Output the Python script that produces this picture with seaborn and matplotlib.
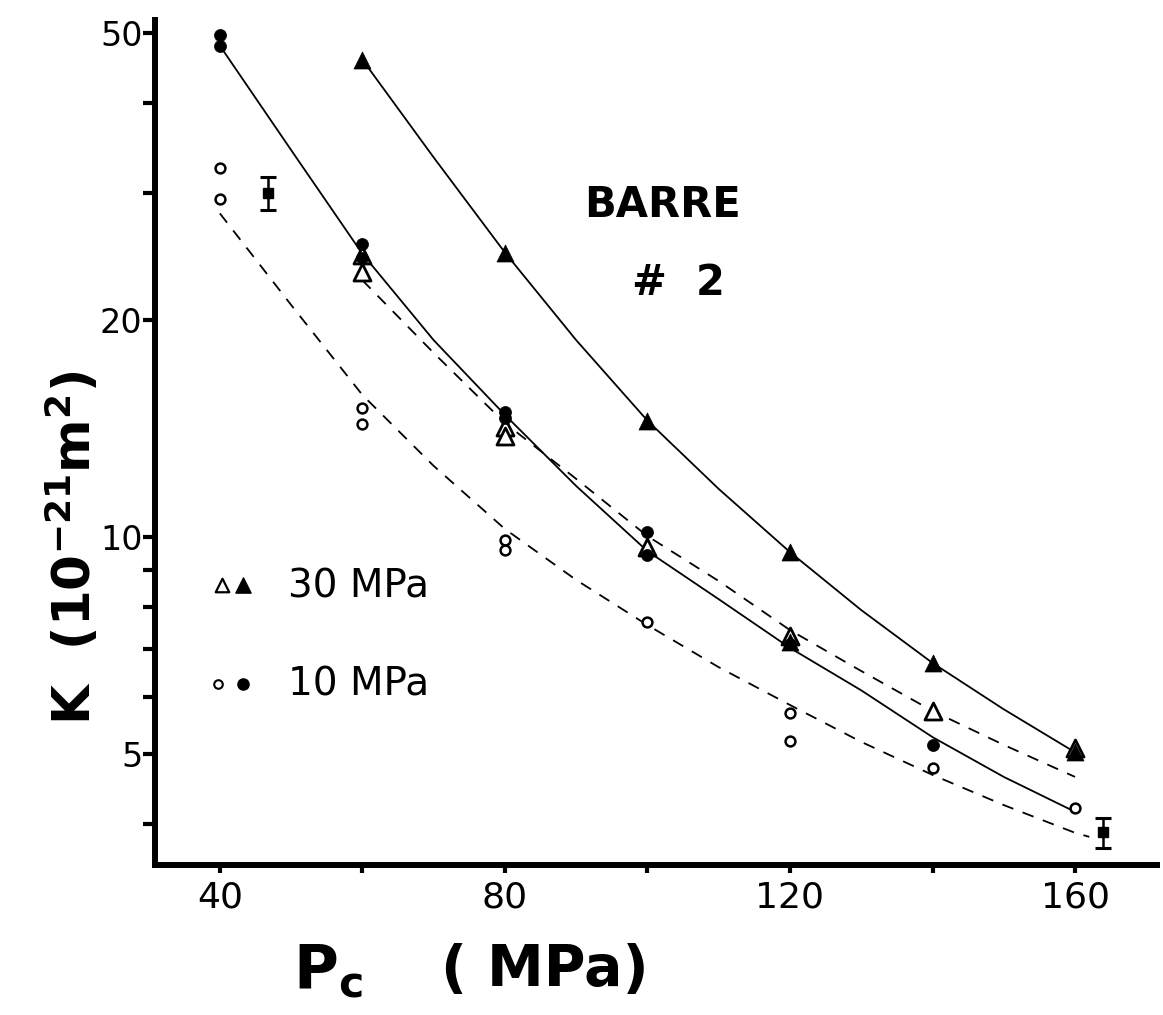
import numpy as np
import pandas as pd
import matplotlib
matplotlib.use("Agg")
import matplotlib.pyplot as plt
import seaborn as sns
from matplotlib.ticker import FixedLocator, NullFormatter, FixedFormatter

# ---------------- data ----------------
# fitted curves (K in 1e-21 m^2 vs Pc in MPa)
fit30_solid_pc = [60, 70, 80, 90, 100, 110, 120, 130, 140, 150, 160]
fit30_solid_k = [45.9, 33.6, 24.8, 18.75, 14.5, 11.66, 9.53, 7.92, 6.69, 5.77, 5.03]

fit10_solid_pc = [40, 50, 60, 70, 80, 90, 100, 110, 120, 130, 140, 150, 160]
fit10_solid_k = [48.0, 34.4, 24.7, 18.75, 14.77, 11.77, 9.56, 8.20, 7.02, 6.13, 5.28, 4.65, 4.16]

fit30_dash_pc = [60, 70, 80, 90, 100, 110, 120, 130, 140, 150, 160]
fit30_dash_k = [22.7, 18.0, 14.39, 12.04, 10.03, 8.69, 7.43, 6.52, 5.74, 5.15, 4.65]

fit10_dash_pc = [40, 50, 60, 70, 80, 90, 100, 110, 120, 130, 140, 150, 160, 162]
fit10_dash_k = [28.1, 20.98, 15.74, 12.55, 10.26, 8.72, 7.55, 6.60, 5.85, 5.20, 4.68, 4.25, 3.89, 3.84]

# measured points
tri_filled_pc = [60, 80, 100, 120, 140, 160, 120]
tri_filled_k = [45.9, 24.8, 14.5, 9.53, 6.69, 5.03, 7.15]

tri_open_pc = [60, 60, 80, 80, 100, 120, 140, 160]
tri_open_k = [24.6, 23.3, 14.2, 13.8, 9.7, 7.3, 5.74, 5.1]

circ_filled_pc = [40, 40, 60, 60, 80, 80, 100, 100, 120, 140]
circ_filled_k = [49.7, 48.0, 25.5, 24.4, 14.9, 14.6, 10.16, 9.44, 7.1, 5.15]

circ_open_pc = [40, 40, 60, 60, 80, 80, 100, 120, 120, 140, 160]
circ_open_k = [32.5, 29.4, 15.1, 14.35, 9.9, 9.6, 7.62, 5.70, 5.21, 4.78, 4.21]

err_pc = [46.7, 163.9]
err_k = [30.0, 3.90]
err_lo = [28.4, 3.71]
err_hi = [31.6, 4.08]

y_major = [5, 10, 20, 50]
y_major_labels = ["5", "10", "20", "50"]
y_minor = [4, 6, 7, 8, 9, 30, 40]
x_major = [40, 80, 120, 160]
x_major_labels = ["40", "80", "120", "160"]
x_minor = [60, 100, 140]

# ---------------- figure ----------------
sns.set_style("white")
plt.rcParams["font.family"] = ["DejaVu Sans"]

W, H = 1163, 1015
fig = plt.figure(figsize=(W / 100, H / 100), dpi=100)
L, B, R, T = 155, 865, 1157, 20
ax = fig.add_axes([L / W, 1 - B / H, (R - L) / W, (B - T) / H])


def fx(px):
    return px / W


def fy(py):
    return 1 - py / H


ink = "black"

# curves
for xs, ks, ls in [
    (fit30_solid_pc, fit30_solid_k, "-"),
    (fit10_solid_pc, fit10_solid_k, "-"),
    (fit30_dash_pc, fit30_dash_k, (0, (6.5, 5.5))),
    (fit10_dash_pc, fit10_dash_k, (0, (6.5, 5.5))),
]:
    df = pd.DataFrame({"pc": xs, "k": ks})
    sns.lineplot(data=df, x="pc", y="k", ax=ax, color=ink, linewidth=1.3,
                 linestyle=ls, sort=False, estimator=None, zorder=2)

# markers
sns.scatterplot(x=circ_open_pc, y=circ_open_k, ax=ax, marker="o", s=50,
                color="white", edgecolor=ink, linewidth=1.8, zorder=3)
sns.scatterplot(x=tri_open_pc, y=tri_open_k, ax=ax, marker="^", s=150,
                color="white", edgecolor=ink, linewidth=2.0, zorder=3)
sns.scatterplot(x=circ_filled_pc, y=circ_filled_k, ax=ax, marker="o", s=75,
                color=ink, edgecolor=ink, linewidth=0.5, zorder=4)
sns.scatterplot(x=tri_filled_pc, y=tri_filled_k, ax=ax, marker="^", s=150,
                color=ink, edgecolor=ink, linewidth=0.5, zorder=4)

err_k_arr = np.array(err_k)
yerr = [err_k_arr - np.array(err_lo), np.array(err_hi) - err_k_arr]
ax.errorbar(err_pc, err_k, yerr=yerr, fmt="s", color=ink, ms=6.5,
            elinewidth=1.8, capsize=6, capthick=2.2, zorder=4)

# axes
ax.set_yscale("log")
ax.set_xlim(30.9, 171.5)
ax.set_ylim(3.51, 52.1)
ax.set_xlabel("")
ax.set_ylabel("")

for s in ["top", "right"]:
    ax.spines[s].set_visible(False)
for s in ["left", "bottom"]:
    ax.spines[s].set_linewidth(4.3)
    ax.spines[s].set_color(ink)

ax.yaxis.set_major_locator(FixedLocator(y_major))
ax.yaxis.set_major_formatter(FixedFormatter(y_major_labels))
ax.yaxis.set_minor_locator(FixedLocator(y_minor))
ax.yaxis.set_minor_formatter(NullFormatter())
ax.xaxis.set_major_locator(FixedLocator(x_major))
ax.xaxis.set_major_formatter(FixedFormatter(x_major_labels))
ax.xaxis.set_minor_locator(FixedLocator(x_minor))
ax.xaxis.set_minor_formatter(NullFormatter())

ax.tick_params(axis="y", which="both", direction="out", length=9, width=3,
               color=ink, labelcolor=ink, pad=0, left=True)
ax.tick_params(axis="x", which="both", direction="out", length=6, width=3,
               color=ink, labelcolor=ink, pad=5, bottom=True)
for lab in ax.get_yticklabels():
    lab.set_fontfamily(["DejaVu Sans"])
    lab.set_fontsize(24)
for lab in ax.get_xticklabels():
    lab.set_fontfamily(["DejaVu Sans"])
    lab.set_fontsize(26)

# axis titles
fig.text(fx(73), fy(548), r"K  (10$^{\mathbf{-21}}$m$^{\mathbf{2}}$)",
         rotation=90, ha="center", va="center", fontsize=37,
         fontweight="bold", color=ink)
fig.text(fx(328), fy(972), r"$\mathbf{P}_{\mathbf{c}}$", ha="center",
         va="center", fontsize=44, color=ink)
fig.text(fx(545), fy(970), "( MPa)", ha="center", va="center", fontsize=41,
         fontweight="bold", color=ink)

# inset title
fig.text(fx(662), fy(205), "BARRE", ha="center", va="center", fontsize=30,
         fontweight="heavy", color=ink)
fig.text(fx(678), fy(283), "#  2", ha="center", va="center", fontsize=30,
         fontweight="heavy", color=ink)


# legend drawn by hand
def axf(px, py):
    return (px - L) / (R - L), (B - py) / (B - T)


x, y = axf(222, 585)
ax.scatter([x], [y], marker="^", s=95, facecolor="white", edgecolor=ink,
           linewidth=1.6, transform=ax.transAxes, clip_on=False, zorder=5)
x, y = axf(243, 585)
ax.scatter([x], [y], marker="^", s=120, color=ink, transform=ax.transAxes,
           clip_on=False, zorder=5)
x, y = axf(218, 684)
ax.scatter([x], [y], marker="o", s=38, facecolor="white", edgecolor=ink,
           linewidth=1.5, transform=ax.transAxes, clip_on=False, zorder=5)
x, y = axf(243, 684)
ax.scatter([x], [y], marker="o", s=65, color=ink, transform=ax.transAxes,
           clip_on=False, zorder=5)
fig.text(fx(288), fy(586), "30 MPa", ha="left", va="center", color=ink,
         fontfamily=["DejaVu Sans"], fontsize=28, fontweight="normal")
fig.text(fx(288), fy(685), "10 MPa", ha="left", va="center", color=ink,
         fontfamily=["DejaVu Sans"], fontsize=28, fontweight="normal")

fig.savefig("out.png", dpi=100, facecolor="white")
